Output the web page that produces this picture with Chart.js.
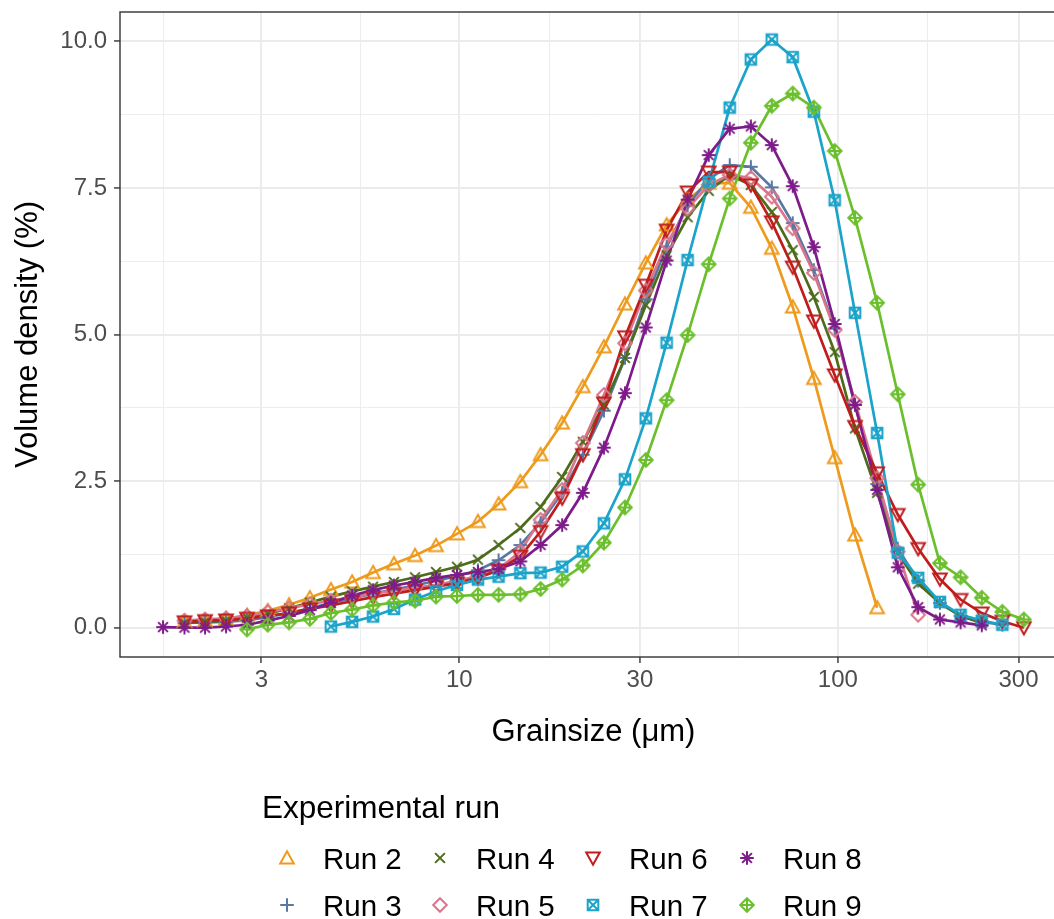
<!DOCTYPE html>
<html>
<head>
<meta charset="utf-8">
<script src="https://cdn.jsdelivr.net/npm/chart.js@4"></script>
<style>
  html, body { margin: 0; padding: 0; background: #fff; overflow: hidden; }
  #wrap { position: relative; width: 1054px; height: 919px; overflow: hidden; }
  #chart { position: absolute; left: 0; top: 0; }
  .lg { position: absolute; font-family: "Liberation Sans", Arial, sans-serif; color: #000; white-space: nowrap; line-height: 1; }
  .key { position: absolute; }
</style>
</head>
<body>
<div id="wrap">
  <canvas id="chart" width="1075" height="919"></canvas>
  <div id="legend"></div>
</div>
<script>
// grain size classes (µm)
const grainSize = [1.65, 1.88, 2.13, 2.42, 2.75, 3.12, 3.55, 4.03, 4.58, 5.21, 5.92, 6.72, 7.64, 8.68,
  9.86, 11.2, 12.7, 14.5, 16.4, 18.7, 21.2, 24.1, 27.4, 31.1, 35.3, 40.1, 45.6, 51.8, 58.9, 66.9,
  76.0, 86.4, 98.1, 111, 127, 144, 163, 186, 211, 240, 272, 310];

// volume density (%) per run, aligned with grainSize
const run2 = [null, 0.10, 0.12, 0.15, 0.21, 0.29, 0.39, 0.51, 0.65, 0.78, 0.94, 1.09, 1.23, 1.40,
  1.60, 1.81, 2.11, 2.49, 2.95, 3.49, 4.11, 4.79, 5.52, 6.22, 6.87, 7.30, 7.58, 7.58, 7.17, 6.47,
  5.47, 4.25, 2.90, 1.58, 0.34, null, null, null, null, null, null, null];
const run3 = [null, 0.08, 0.09, 0.10, 0.13, 0.18, 0.25, 0.33, 0.42, 0.50, 0.58, 0.65, 0.72, 0.80,
  0.88, 0.98, 1.15, 1.41, 1.79, 2.30, 2.95, 3.70, 4.60, 5.60, 6.50, 7.20, 7.65, 7.89, 7.86, 7.51,
  6.90, 6.10, 5.10, 3.80, 2.45, 1.35, 0.80, 0.42, 0.20, 0.10, 0.05, null];
const run4 = [null, 0.08, 0.10, 0.12, 0.17, 0.24, 0.33, 0.43, 0.53, 0.62, 0.70, 0.78, 0.86, 0.95,
  1.04, 1.16, 1.41, 1.70, 2.06, 2.57, 3.17, 3.80, 4.60, 5.50, 6.35, 7.00, 7.45, 7.72, 7.55, 7.09,
  6.44, 5.64, 4.70, 3.40, 2.30, 1.27, 0.75, 0.42, 0.20, 0.08, null, null];
const run5 = [null, 0.12, 0.14, 0.16, 0.20, 0.27, 0.33, 0.40, 0.46, 0.52, 0.58, 0.63, 0.68, 0.73,
  0.80, 0.88, 1.00, 1.30, 1.84, 2.35, 3.15, 3.97, 4.85, 5.75, 6.55, 7.15, 7.55, 7.72, 7.67, 7.35,
  6.81, 6.05, 5.08, 3.85, 2.55, 1.30, 0.22, null, null, null, null, null];
const run6 = [null, 0.10, 0.12, 0.13, 0.16, 0.20, 0.25, 0.32, 0.38, 0.45, 0.52, 0.58, 0.64, 0.70,
  0.76, 0.85, 0.98, 1.22, 1.64, 2.21, 2.95, 3.83, 4.96, 5.84, 6.78, 7.43, 7.77, 7.77, 7.55, 6.92,
  6.15, 5.23, 4.31, 3.43, 2.64, 1.93, 1.35, 0.83, 0.48, 0.25, 0.11, 0.00];
const run7 = [null, null, null, null, null, null, null, null, 0.02, 0.10, 0.19, 0.32, 0.48, 0.62,
  0.73, 0.82, 0.87, 0.93, 0.94, 1.04, 1.30, 1.78, 2.53, 3.57, 4.86, 6.27, 7.60, 8.87, 9.69, 10.03,
  9.73, 8.80, 7.29, 5.37, 3.32, 1.28, 0.85, 0.44, 0.22, 0.12, 0.05, null];
const run8 = [0.01, 0.00, 0.00, 0.02, 0.05, 0.12, 0.20, 0.30, 0.42, 0.55, 0.64, 0.72, 0.78, 0.85,
  0.90, 0.95, 1.00, 1.13, 1.41, 1.75, 2.30, 3.07, 4.00, 5.12, 6.26, 7.30, 8.06, 8.51, 8.55, 8.23,
  7.53, 6.49, 5.18, 3.80, 2.35, 1.03, 0.35, 0.14, 0.09, 0.04, null, null];
const run9 = [null, null, null, null, -0.03, 0.05, 0.09, 0.15, 0.25, 0.31, 0.38, 0.43, 0.46, 0.53,
  0.54, 0.56, 0.56, 0.57, 0.66, 0.82, 1.06, 1.45, 2.05, 2.86, 3.88, 4.99, 6.20, 7.32, 8.27, 8.90,
  9.11, 8.87, 8.13, 6.99, 5.54, 3.98, 2.44, 1.10, 0.86, 0.51, 0.27, 0.14];

const runNames = ['Run 2', 'Run 3', 'Run 4', 'Run 5', 'Run 6', 'Run 7', 'Run 8', 'Run 9'];
const runValues = [run2, run3, run4, run5, run6, run7, run8, run9];

const xMajorTicks = [3, 10, 30, 100, 300];
const xTickLabels = ['3', '10', '30', '100', '300'];
const xMinorTicks = [1.65, 5.48, 17.3, 54.8, 173];
const yMajorTicks = [0, 2.5, 5, 7.5, 10];
const yTickLabels = ['0.0', '2.5', '5.0', '7.5', '10.0'];
const yMinorTicks = [1.25, 3.75, 6.25, 8.75];

// styling
const runColors = ['#EE9A1C', '#5878A3', '#4D6B1A', '#D9768C', '#BF1D1D', '#1BA3C9', '#7E1B8A', '#6BBF2C'];
const runShapes = ['triangle', 'plus', 'cross', 'diamond', 'triangleDown', 'squareCross', 'asterisk', 'diamondPlus'];
const FONT = '"Liberation Sans", Arial, sans-serif';

function marker(shape, color) {
  const s = 20, m = s / 2, r = 6.8;
  const c = document.createElement('canvas');
  c.width = s; c.height = s;
  const g = c.getContext('2d');
  g.strokeStyle = color;
  g.lineWidth = 2;
  g.beginPath();
  const line = (x1, y1, x2, y2) => { g.moveTo(x1, y1); g.lineTo(x2, y2); };
  if (shape === 'triangle') {
    g.moveTo(m, m - r); g.lineTo(m + r, m + r * 0.8); g.lineTo(m - r, m + r * 0.8); g.closePath();
  } else if (shape === 'triangleDown') {
    g.moveTo(m, m + r); g.lineTo(m + r, m - r * 0.8); g.lineTo(m - r, m - r * 0.8); g.closePath();
  } else if (shape === 'plus') {
    line(m, m - r, m, m + r); line(m - r, m, m + r, m);
  } else if (shape === 'cross') {
    const d = r * 0.72;
    line(m - d, m - d, m + d, m + d); line(m + d, m - d, m - d, m + d);
  } else if (shape === 'diamond' || shape === 'diamondPlus') {
    g.moveTo(m, m - r); g.lineTo(m + r, m); g.lineTo(m, m + r); g.lineTo(m - r, m); g.closePath();
    if (shape === 'diamondPlus') { line(m, m - r, m, m + r); line(m - r, m, m + r, m); }
  } else if (shape === 'squareCross') {
    const d = r * 0.78;
    g.rect(m - d, m - d, 2 * d, 2 * d);
    line(m - d, m - d, m + d, m + d); line(m + d, m - d, m - d, m + d);
  } else if (shape === 'asterisk') {
    const d = r * 0.72;
    line(m, m - r, m, m + r); line(m - r, m, m + r, m);
    line(m - d, m - d, m + d, m + d); line(m + d, m - d, m - d, m + d);
  }
  g.stroke();
  return c;
}

const datasets = [];
runValues.forEach((vals, i) => {
  const pts = grainSize.map((x, j) => ({ x: x, y: vals[j] })).filter(p => p.y !== null);
  datasets.push({
    label: runNames[i], data: pts, showLine: true, pointRadius: 0,
    borderColor: runColors[i], borderWidth: 2.7, tension: 0, order: 20 - i
  });
  datasets.push({
    label: runNames[i] + ' pts', data: pts, showLine: false,
    pointStyle: marker(runShapes[i], runColors[i]), order: 10 - i
  });
});

const gridColor = '#EBEBEB';
const panelBorder = {
  id: 'panelBorder',
  afterDatasetsDraw(chart) {
    const { ctx, chartArea: a } = chart;
    ctx.save();
    ctx.strokeStyle = '#333333';
    ctx.lineWidth = 1.4;
    ctx.strokeRect(a.left, a.top, a.right - a.left, a.bottom - a.top);
    ctx.restore();
  }
};

new Chart(document.getElementById('chart'), {
  type: 'scatter',
  data: { datasets },
  plugins: [panelBorder],
  options: {
    responsive: false,
    animation: false,
    events: [],
    layout: { padding: { left: 0, top: 12, right: 8, bottom: 166 } },
    plugins: { legend: { display: false }, tooltip: { enabled: false } },
    scales: {
      x: {
        type: 'logarithmic', min: 1.27, max: 403,
        afterBuildTicks: s => { s.ticks = xMinorTicks.concat(xMajorTicks).sort((a, b) => a - b).map(v => ({ value: v })); },
        afterFit: s => { s.height = 96; s.paddingLeft = 0; s.paddingRight = 0; },
        border: { display: false },
        grid: {
          color: gridColor,
          lineWidth: c => xMajorTicks.includes(c.tick.value) ? 1.9 : 0.9,
          tickLength: 6,
          tickWidth: 1.4,
          tickColor: c => xMajorTicks.includes(c.tick.value) ? '#333333' : 'rgba(0,0,0,0)'
        },
        ticks: {
          autoSkip: false, maxRotation: 0, padding: 3, color: '#4D4D4D',
          font: { family: FONT, size: 24 },
          callback: v => { const k = xMajorTicks.indexOf(v); return k >= 0 ? xTickLabels[k] : ''; }
        },
        title: { display: true, text: 'Grainsize (μm)', color: '#000', font: { family: FONT, size: 31 }, padding: { top: 0, bottom: 2 } }
      },
      y: {
        min: -0.5, max: 10.5,
        afterBuildTicks: s => { s.ticks = yMinorTicks.concat(yMajorTicks).sort((a, b) => a - b).map(v => ({ value: v })); },
        afterFit: s => { s.width = 120; s.paddingTop = 0; s.paddingBottom = 0; },
        border: { display: false },
        grid: {
          color: gridColor,
          lineWidth: c => yMajorTicks.includes(c.tick.value) ? 1.9 : 0.9,
          tickLength: 6,
          tickWidth: 1.4,
          tickColor: c => yMajorTicks.includes(c.tick.value) ? '#333333' : 'rgba(0,0,0,0)'
        },
        ticks: {
          autoSkip: false, padding: 7, color: '#4D4D4D',
          font: { family: FONT, size: 24 },
          callback: v => { const k = yMajorTicks.indexOf(v); return k >= 0 ? yTickLabels[k] : ''; }
        },
        title: { display: true, text: 'Volume density (%)', color: '#000', font: { family: FONT, size: 31 }, padding: { top: 10, bottom: 0 } }
      }
    }
  }
});

// legend (ggplot-style, below the panel)
const legend = document.getElementById('legend');
function addText(txt, left, cy, size) {
  const d = document.createElement('div');
  d.className = 'lg';
  d.textContent = txt;
  d.style.left = left + 'px';
  d.style.top = (cy - size / 2) + 'px';
  d.style.fontSize = size + 'px';
  legend.appendChild(d);
}
addText('Experimental run', 262, 808, 31.5);
const colX = [287, 440, 593, 747];
const rowY = [858, 905];
runNames.forEach((name, i) => {
  const col = Math.floor(i / 2), row = i % 2;
  const k = marker(runShapes[i], runColors[i]);
  k.className = 'key';
  k.style.left = (colX[col] - 10) + 'px';
  k.style.top = (rowY[row] - 10) + 'px';
  legend.appendChild(k);
  addText(name, colX[col] + 36, rowY[row] + 1, 29.5);
});
</script>
</body>
</html>
